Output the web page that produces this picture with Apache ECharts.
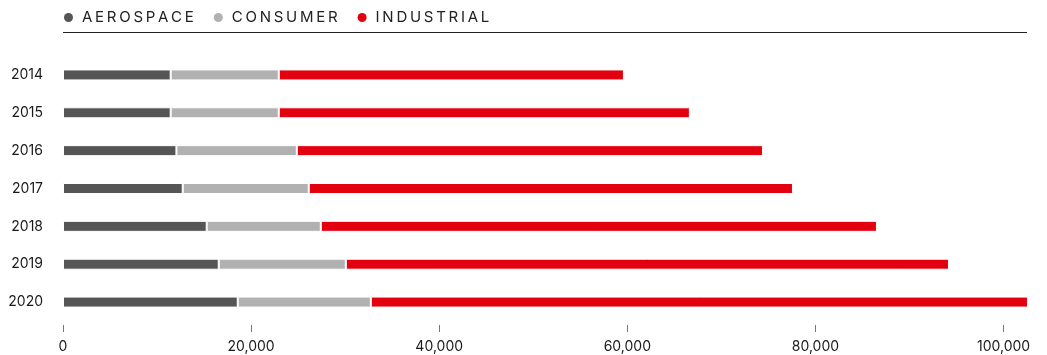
<!DOCTYPE html>
<html>
<head>
<meta charset="utf-8">
<script src="https://cdn.jsdelivr.net/npm/echarts@6/dist/echarts.min.js"></script>
<style>
    html, body { margin: 0; padding: 0; background: #fff; }
    #chart { width: 1047px; height: 355px; }
</style>
</head>
<body>
<div id="chart"></div>
<script>
// years, top to bottom
var years = ['2014', '2015', '2016', '2017', '2018', '2019', '2020'];
var aerospace = [11450, 11450, 12060, 12730, 15280, 16560, 18580];
var consumer = [11490, 11490, 12800, 13400, 12130, 13510, 14150];
var industrial = [36700, 43710, 49560, 51480, 59130, 64130, 69870];
var xTicks = [0, 20000, 40000, 60000, 80000, 100000];
var xMax = 102600;

var colors = ['#555555', '#b1b1b2', '#e3000f'];
var fontName = 'Inter, "Noto Sans", sans-serif';

// letter spaced legend text
function spaced(s) {
    return s.split('').join('\u2009');
}

var myChart = echarts.init(document.getElementById('chart'));
var option = {
    animation: false,
    color: colors,
    legend: {
        left: 59,
        top: 5,
        icon: 'circle',
        itemWidth: 17,
        itemHeight: 9,
        itemGap: 20,
        itemStyle: { borderWidth: 0 },
        formatter: function (name) { return spaced(name); },
        textStyle: {
            fontFamily: fontName,
            fontSize: 15,
            color: '#222'
        },
        data: ['AEROSPACE', 'CONSUMER', 'INDUSTRIAL']
    },
    graphic: [{
        type: 'line',
        shape: { x1: 63, y1: 32.5, x2: 1027, y2: 32.5 },
        style: { stroke: '#222', lineWidth: 1 }
    }],
    grid: {
        left: 63,
        right: 19,
        top: 56,
        bottom: 34
    },
    xAxis: {
        type: 'value',
        min: 0,
        max: xMax,
        offset: 4,
        splitLine: { show: false },
        axisLine: { show: false },
        axisTick: {
            show: true,
            length: 7,
            customValues: xTicks,
            lineStyle: { color: '#777' }
        },
        axisLabel: {
            customValues: xTicks,
            margin: 15,
            fontFamily: fontName,
            fontSize: 14,
            color: '#1a1a1a',
            formatter: function (v) {
                return v.toLocaleString('en-US');
            }
        }
    },
    yAxis: {
        type: 'category',
        inverse: true,
        data: years,
        axisLine: { show: false },
        axisTick: { show: false },
        axisLabel: {
            margin: 20,
            fontFamily: fontName,
            fontSize: 14,
            color: '#1a1a1a'
        }
    },
    series: [
        { name: 'AEROSPACE', data: aerospace },
        { name: 'CONSUMER', data: consumer },
        { name: 'INDUSTRIAL', data: industrial }
    ].map(function (s) {
        return {
            name: s.name,
            type: 'bar',
            stack: 'total',
            barWidth: 11,
            itemStyle: { borderColor: '#fff', borderWidth: 1 },
            data: s.data
        };
    })
};
myChart.setOption(option, true);
</script>
</body>
</html>
